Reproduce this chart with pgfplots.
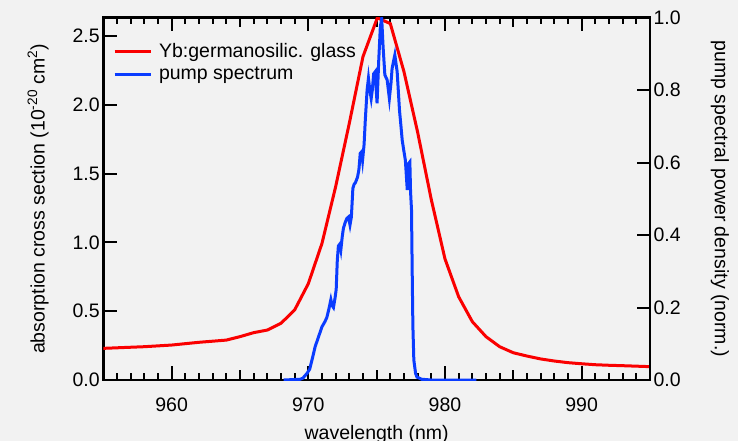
\documentclass[border=0pt]{standalone}
\usepackage{pgfplots}
\pgfplotsset{compat=1.18}
\usepackage{fontspec}
\setmainfont{Liberation Sans}
\definecolor{bgc}{RGB}{242,242,242}
\definecolor{myred}{RGB}{250,0,0}
\definecolor{myblue}{RGB}{10,60,255}
\begin{document}
\begin{tikzpicture}[font=\fontsize{19.5}{22.3}\selectfont]
\fill[bgc] (-103.3pt,-61pt) rectangle (634.7pt,380pt);
\useasboundingbox (-103.3pt,-61pt) rectangle (634.7pt,380pt);
\begin{axis}[
  at={(0pt,0pt)}, anchor=south west,
  scale only axis, width=546.7pt, height=362.3pt,
  xmin=955, xmax=995, ymin=0, ymax=2.633,
  /pgf/number format/assume math mode=true,
  axis line style={line width=2.6pt},
  every tick/.style={black, line width=2pt},
  tick align=inside,
  major tick length=13.5pt, minor tick length=6.7pt,
  xtick={960,970,980,990},
  minor xtick={955,...,995},
  extra x ticks={965,975,985},
  extra x tick labels={},
  extra x tick style={major tick length=9.5pt},
  xticklabel style={yshift=-14pt},
  ytick={0,0.5,1,1.5,2,2.5},
  ytick pos=left,
  yticklabel style={/pgf/number format/.cd, fixed, fixed zerofill, precision=1},
  xlabel={wavelength (nm)},
  ylabel={absorption cross section (10\textsuperscript{-20} cm\textsuperscript{2})},
  every axis x label/.style={at={(axis description cs:0.5,-0.15)}, anchor=center},
  every axis y label/.style={at={(axis description cs:-0.1194,0.5)}, rotate=90, anchor=center},
  legend style={at={(axis description cs:0.012,0.94)}, anchor=north west, draw=none, fill=none, row sep=4pt},
  legend cell align=left,
  legend image code/.code={\draw[#1] (0pt,0pt) -- (36.7pt,0pt); \path (41pt,0pt);},
]
\addplot[myred, line width=3pt] coordinates {
(955,0.230) (958,0.242) (960,0.254) (962,0.274) (964,0.290) (965,0.315) (966,0.344)
(967,0.363) (968,0.412) (969,0.509) (970,0.700) (971,0.993) (972,1.405) (973,1.866)
(974,2.350) (975.05,2.632) (976,2.590) (977,2.240) (978,1.800) (979,1.310) (980,0.880)
(981,0.605) (982,0.424) (983,0.315) (984,0.242) (985,0.198) (986,0.174) (987,0.153)
(988,0.138) (989,0.126) (990,0.118) (991,0.111) (992,0.107) (993,0.104) (995,0.097)
};
\addlegendentry{Yb:germanosilic. glass}
\addlegendimage{myblue, line width=3pt}
\addlegendentry{pump spectrum}
\end{axis}
\begin{axis}[
  at={(0pt,0pt)}, anchor=south west,
  scale only axis, width=546.7pt, height=362.3pt,
  xmin=955, xmax=995, ymin=0, ymax=1,
  hide x axis,
  axis y line*=right,
  /pgf/number format/assume math mode=true,
  axis line style={line width=2.6pt},
  every tick/.style={black, line width=2pt},
  tick align=inside,
  major tick length=13.5pt,
  ytick={0,0.2,0.4,0.6,0.8,1},
  ytick pos=right,
  yticklabel style={/pgf/number format/.cd, fixed, fixed zerofill, precision=1},
  ylabel={pump spectral power density (norm.)},
  every axis y label/.style={at={(axis description cs:1.128,0.5)}, rotate=-90, anchor=center},
]
\addplot[myblue, line width=3pt] coordinates {
(968.2,0) (969.4,0.002) (969.6,0.005) (969.9,0.018) (970.1,0.030) (970.3,0.060)
(970.5,0.092) (970.8,0.125) (971.0,0.147) (971.2,0.160) (971.35,0.172) (971.5,0.195)
(971.65,0.222) (971.75,0.205) (971.84,0.200) (971.95,0.225) (972.04,0.250) (972.12,0.330)
(972.2,0.370) (972.3,0.375) (972.38,0.359) (972.48,0.395) (972.57,0.419) (972.7,0.435)
(972.82,0.446) (972.94,0.450) (973.05,0.428) (973.15,0.450) (973.26,0.529) (973.35,0.540)
(973.45,0.545) (973.6,0.560) (973.7,0.580) (973.8,0.626) (973.9,0.630) (973.97,0.607)
(974.08,0.650) (974.17,0.718) (974.3,0.800) (974.4,0.833) (974.5,0.800) (974.6,0.777)
(974.68,0.800) (974.78,0.845) (974.9,0.851) (974.97,0.800) (975.03,0.764) (975.15,0.880)
(975.27,0.975) (975.37,0.998) (975.47,0.920) (975.6,0.842) (975.77,0.828) (975.93,0.777)
(976.05,0.820) (976.13,0.860) (976.33,0.897) (976.5,0.851) (976.67,0.745) (976.78,0.700)
(976.87,0.662) (977.0,0.630) (977.1,0.607) (977.24,0.524) (977.35,0.598) (977.43,0.602)
(977.48,0.520) (977.55,0.470) (977.6,0.300) (977.65,0.150) (977.72,0.055) (977.85,0.018)
(977.95,0.008) (978.3,0.002) (979,0) (982.3,0)
};
\end{axis}
\end{tikzpicture}
\end{document}
